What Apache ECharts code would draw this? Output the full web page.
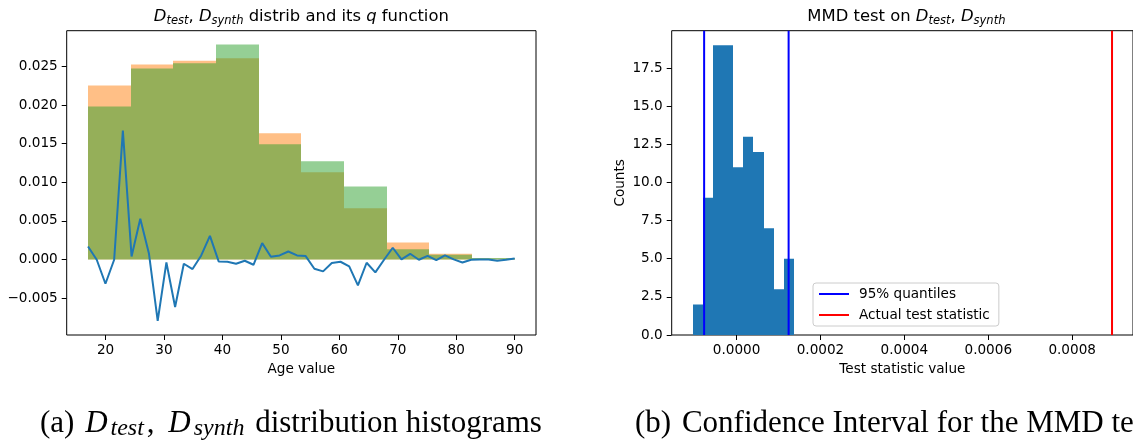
<!DOCTYPE html>
<html>
<head>
<meta charset="utf-8">
<script src="https://cdn.jsdelivr.net/npm/echarts@6/dist/echarts.min.js"></script>
<style>
  html, body { margin: 0; padding: 0; background: #fff; overflow: hidden; }
  #chart { width: 1133px; height: 441px; }
</style>
</head>
<body>
<div id="chart"></div>
<script>
// ---- Panel (a): age distributions and the q function ----
const ageBinEdges = [17, 24.3, 31.6, 38.9, 46.2, 53.5, 60.8, 68.1, 75.4, 82.7, 90];
const testDensity = [0.02254, 0.02525, 0.02573, 0.02607, 0.01633, 0.01129, 0.00663, 0.00220, 0.00073, 0.00012];
const synthDensity = [0.01982, 0.02473, 0.02542, 0.02784, 0.01491, 0.01271, 0.00944, 0.00133, 0.00060, 0.00018];
const qAges = [17.00, 18.49, 19.98, 21.47, 22.96, 24.45, 25.94, 27.43, 28.92, 30.41,
               31.90, 33.39, 34.88, 36.37, 37.86, 39.35, 40.84, 42.33, 43.82, 45.31,
               46.80, 48.29, 49.78, 51.27, 52.76, 54.24, 55.73, 57.22, 58.71, 60.20,
               61.69, 63.18, 64.67, 66.16, 67.65, 69.14, 70.63, 72.12, 73.61, 75.10,
               76.59, 78.08, 79.57, 81.06, 82.55, 84.04, 85.53, 87.02, 88.51, 90.00];
const qValues = [0.00168, -0.00004, -0.00315, -0.00004, 0.01668, 0.00039, 0.00526, 0.00073, -0.00797, -0.00039,
                 -0.00616, -0.00056, -0.00125, 0.00052, 0.00306, -0.00026, -0.00030, -0.00056, -0.00017, -0.00069,
                 0.00211, 0.00034, 0.00052, 0.00103, 0.00052, 0.00043, -0.00121, -0.00155, -0.00047, -0.00030,
                 -0.00090, -0.00336, -0.00043, -0.00168, -0.00004, 0.00151, 0.00000, 0.00073, -0.00004, 0.00047,
                 -0.00009, 0.00052, 0.00000, -0.00039, -0.00004, 0.00000, 0.00000, -0.00017, -0.00004, 0.00013];
const ageTicks = [20, 30, 40, 50, 60, 70, 80, 90];
const densityTicks = [-0.005, 0, 0.005, 0.010, 0.015, 0.020, 0.025];
const densityTickLabels = ['\u22120.005', '0.000', '0.005', '0.010', '0.015', '0.020', '0.025'];

// ---- Panel (b): permutation distribution of the MMD statistic ----
const mmdBinEdges = [-0.0001040, -0.0000800, -0.0000559, -0.0000319, -0.0000078, 0.0000162,
                     0.0000403, 0.0000643, 0.0000884, 0.0001124, 0.0001365];
const mmdCounts = [2, 9, 19, 19, 11, 13, 12, 7, 3, 5];
const quantiles = [-0.0000773, 0.0001241];
const actualStatistic = 0.000895;
const statTicks = [0, 0.0002, 0.0004, 0.0006, 0.0008];
const statTickLabels = ['0.0000', '0.0002', '0.0004', '0.0006', '0.0008'];
const countTicks = [0, 2.5, 5, 7.5, 10, 12.5, 15, 17.5];
const countTickLabels = ['0.0', '2.5', '5.0', '7.5', '10.0', '12.5', '15.0', '17.5'];

const FONT = 'DejaVu Sans';
const TICK_SIZE = 13.6;
const AX_MIN_B = 0, AX_MAX_B = 19.95;

function binRows(edges, heights) {
  return heights.map((h, i) => [edges[i], edges[i + 1], h]);
}
// one histogram bar per row: [left edge, right edge, height]; edges snapped to whole pixels
function histRender(params, api) {
  const top = api.coord([api.value(0), api.value(2)]);
  const base = api.coord([api.value(1), 0]);
  const x0 = Math.round(top[0]), x1 = Math.round(base[0]);
  return {
    type: 'rect',
    shape: { x: x0, y: top[1], width: x1 - x0, height: base[1] - top[1] },
    style: api.style()
  };
}
function labelFrom(ticks, labels) {
  return v => {
    const k = ticks.findIndex(t => Math.abs(t - v) < 1e-12);
    return k >= 0 ? labels[k] : String(v);
  };
}
function valueAxis(extra) {
  return Object.assign({
    type: 'value',
    splitLine: { show: false },
    axisLine: { show: false, onZero: false },
    nameTextStyle: { color: '#000', fontFamily: FONT, fontSize: TICK_SIZE }
  }, extra);
}
function ticks(values) {
  return { show: true, length: 5, inside: false, customValues: values, lineStyle: { color: '#000', width: 1 } };
}
function labels(values, formatter, margin) {
  return { color: '#000', fontFamily: FONT, fontSize: TICK_SIZE, margin: margin, customValues: values, formatter: formatter };
}

const titleRich = {
  n: { fontFamily: FONT, fontSize: 16.4, color: '#000', lineHeight: 20 },
  i: { fontFamily: FONT, fontSize: 16.4, fontStyle: 'italic', color: '#000', lineHeight: 20 },
  s: { fontFamily: FONT, fontSize: 11.5, fontStyle: 'italic', color: '#000', lineHeight: 10, verticalAlign: 'bottom' }
};
const CAP_FONT = 'Liberation Serif';
const capRich = {
  p: { fontFamily: CAP_FONT, fontSize: 31, color: '#b3645a', lineHeight: 34, padding: [0, 3, 0, 0] },
  n: { fontFamily: CAP_FONT, fontSize: 31, color: '#000', lineHeight: 34 },
  c: { fontFamily: CAP_FONT, fontSize: 31, color: '#000', lineHeight: 34, padding: [0, 6, 0, 0] },
  i: { fontFamily: CAP_FONT, fontSize: 31, fontStyle: 'italic', color: '#000', lineHeight: 34 },
  s: { fontFamily: CAP_FONT, fontSize: 24, fontStyle: 'italic', color: '#000', lineHeight: 20,
       verticalAlign: 'bottom', padding: [0, 3, 0, 3] }
};

const chart = echarts.init(document.getElementById('chart'), null, { renderer: 'canvas' });
chart.setOption({
  animation: false,
  backgroundColor: '#fff',
  grid: [
    { left: 66.7, top: 30.7, width: 469.3, height: 304.3, show: true, borderColor: '#000', borderWidth: 1 },
    { left: 671.7, top: 30.7, width: 469.3, height: 304.3, show: true, borderColor: '#000', borderWidth: 1 }
  ],
  xAxis: [
    valueAxis({
      gridIndex: 0, min: 13.35, max: 93.65,
      name: 'Age value', nameLocation: 'middle', nameGap: 27,
      axisTick: ticks(ageTicks),
      axisLabel: labels(ageTicks, v => String(Math.round(v)), 8)
    }),
    valueAxis({
      gridIndex: 1, min: -0.0001546, max: 0.000945,
      name: 'Test statistic value', nameLocation: 'middle', nameGap: 27,
      axisTick: ticks(statTicks),
      axisLabel: labels(statTicks, labelFrom(statTicks, statTickLabels), 8)
    })
  ],
  yAxis: [
    valueAxis({
      gridIndex: 0, min: -0.00979, max: 0.02963,
      axisTick: ticks(densityTicks),
      axisLabel: labels(densityTicks, labelFrom(densityTicks, densityTickLabels), 9)
    }),
    valueAxis({
      gridIndex: 1, min: AX_MIN_B, max: AX_MAX_B,
      name: 'Counts', nameLocation: 'middle', nameGap: 44,
      axisTick: ticks(countTicks),
      axisLabel: labels(countTicks, labelFrom(countTicks, countTickLabels), 9)
    })
  ],
  legend: {
    data: ['95% quantiles', 'Actual test statistic'],
    orient: 'vertical',
    left: 813, top: 283,
    padding: [4, 9, 4, 6],
    itemWidth: 30, itemHeight: 2, itemGap: 7,
    icon: 'rect',
    backgroundColor: 'rgba(255,255,255,0.8)',
    borderColor: '#cccccc', borderWidth: 1, borderRadius: 3,
    textStyle: { fontFamily: FONT, fontSize: TICK_SIZE, color: '#000', lineHeight: 14, padding: [0, 0, 0, 5] }
  },
  series: [
    {
      name: 'D_test', type: 'custom', xAxisIndex: 0, yAxisIndex: 0,
      renderItem: histRender, encode: { x: [0, 1], y: 2 },
      itemStyle: { color: 'rgba(255,127,14,0.5)' },
      data: binRows(ageBinEdges, testDensity), z: 1
    },
    {
      name: 'D_synth', type: 'custom', xAxisIndex: 0, yAxisIndex: 0,
      renderItem: histRender, encode: { x: [0, 1], y: 2 },
      itemStyle: { color: 'rgba(44,160,44,0.5)' },
      data: binRows(ageBinEdges, synthDensity), z: 2
    },
    {
      name: 'q', type: 'line', xAxisIndex: 0, yAxisIndex: 0,
      data: qAges.map((a, i) => [a, qValues[i]]),
      showSymbol: false, symbol: 'none',
      lineStyle: { color: '#1f77b4', width: 2 }, z: 3
    },
    {
      name: 'MMD', type: 'custom', xAxisIndex: 1, yAxisIndex: 1,
      renderItem: histRender, encode: { x: [0, 1], y: 2 },
      itemStyle: { color: '#1f77b4' },
      data: binRows(mmdBinEdges, mmdCounts), z: 1
    },
    ...quantiles.map(q => ({
      name: '95% quantiles', type: 'line', xAxisIndex: 1, yAxisIndex: 1,
      data: [[q, AX_MIN_B], [q, AX_MAX_B]],
      showSymbol: false, symbol: 'none', color: '#0000ff',
      lineStyle: { color: '#0000ff', width: 2 }, z: 3
    })),
    {
      name: 'Actual test statistic', type: 'line', xAxisIndex: 1, yAxisIndex: 1,
      data: [[actualStatistic, AX_MIN_B], [actualStatistic, AX_MAX_B]],
      showSymbol: false, symbol: 'none', color: '#ff0000',
      lineStyle: { color: '#ff0000', width: 2 }, z: 3
    }
  ],
  graphic: [
    {
      type: 'text', x: 301.3, y: 17, z: 10,
      style: {
        text: '{i|D}{s|test}{n|, }{i|D}{s|synth}{n| distrib and its }{i|q}{n| function}',
        rich: titleRich, align: 'center', verticalAlign: 'middle'
      }
    },
    {
      type: 'text', x: 906.4, y: 17, z: 10,
      style: {
        text: '{n|MMD test on }{i|D}{s|test}{n|, }{i|D}{s|synth}',
        rich: titleRich, align: 'center', verticalAlign: 'middle'
      }
    },
    {
      type: 'text', x: 40, y: 424, z: 10,
      style: {
        text: '{p|(a)}{n| }{i|D}{s|test}{c|,}{n| }{i|D}{s|synth}{n| distribution histograms}',
        rich: capRich, align: 'left', verticalAlign: 'middle'
      }
    },
    {
      type: 'text', x: 635, y: 424, z: 10,
      style: {
        text: '{p|(b)}{n| Confidence Interval for the MMD test}',
        rich: capRich, align: 'left', verticalAlign: 'middle'
      }
    }
  ]
});
</script>
</body>
</html>
